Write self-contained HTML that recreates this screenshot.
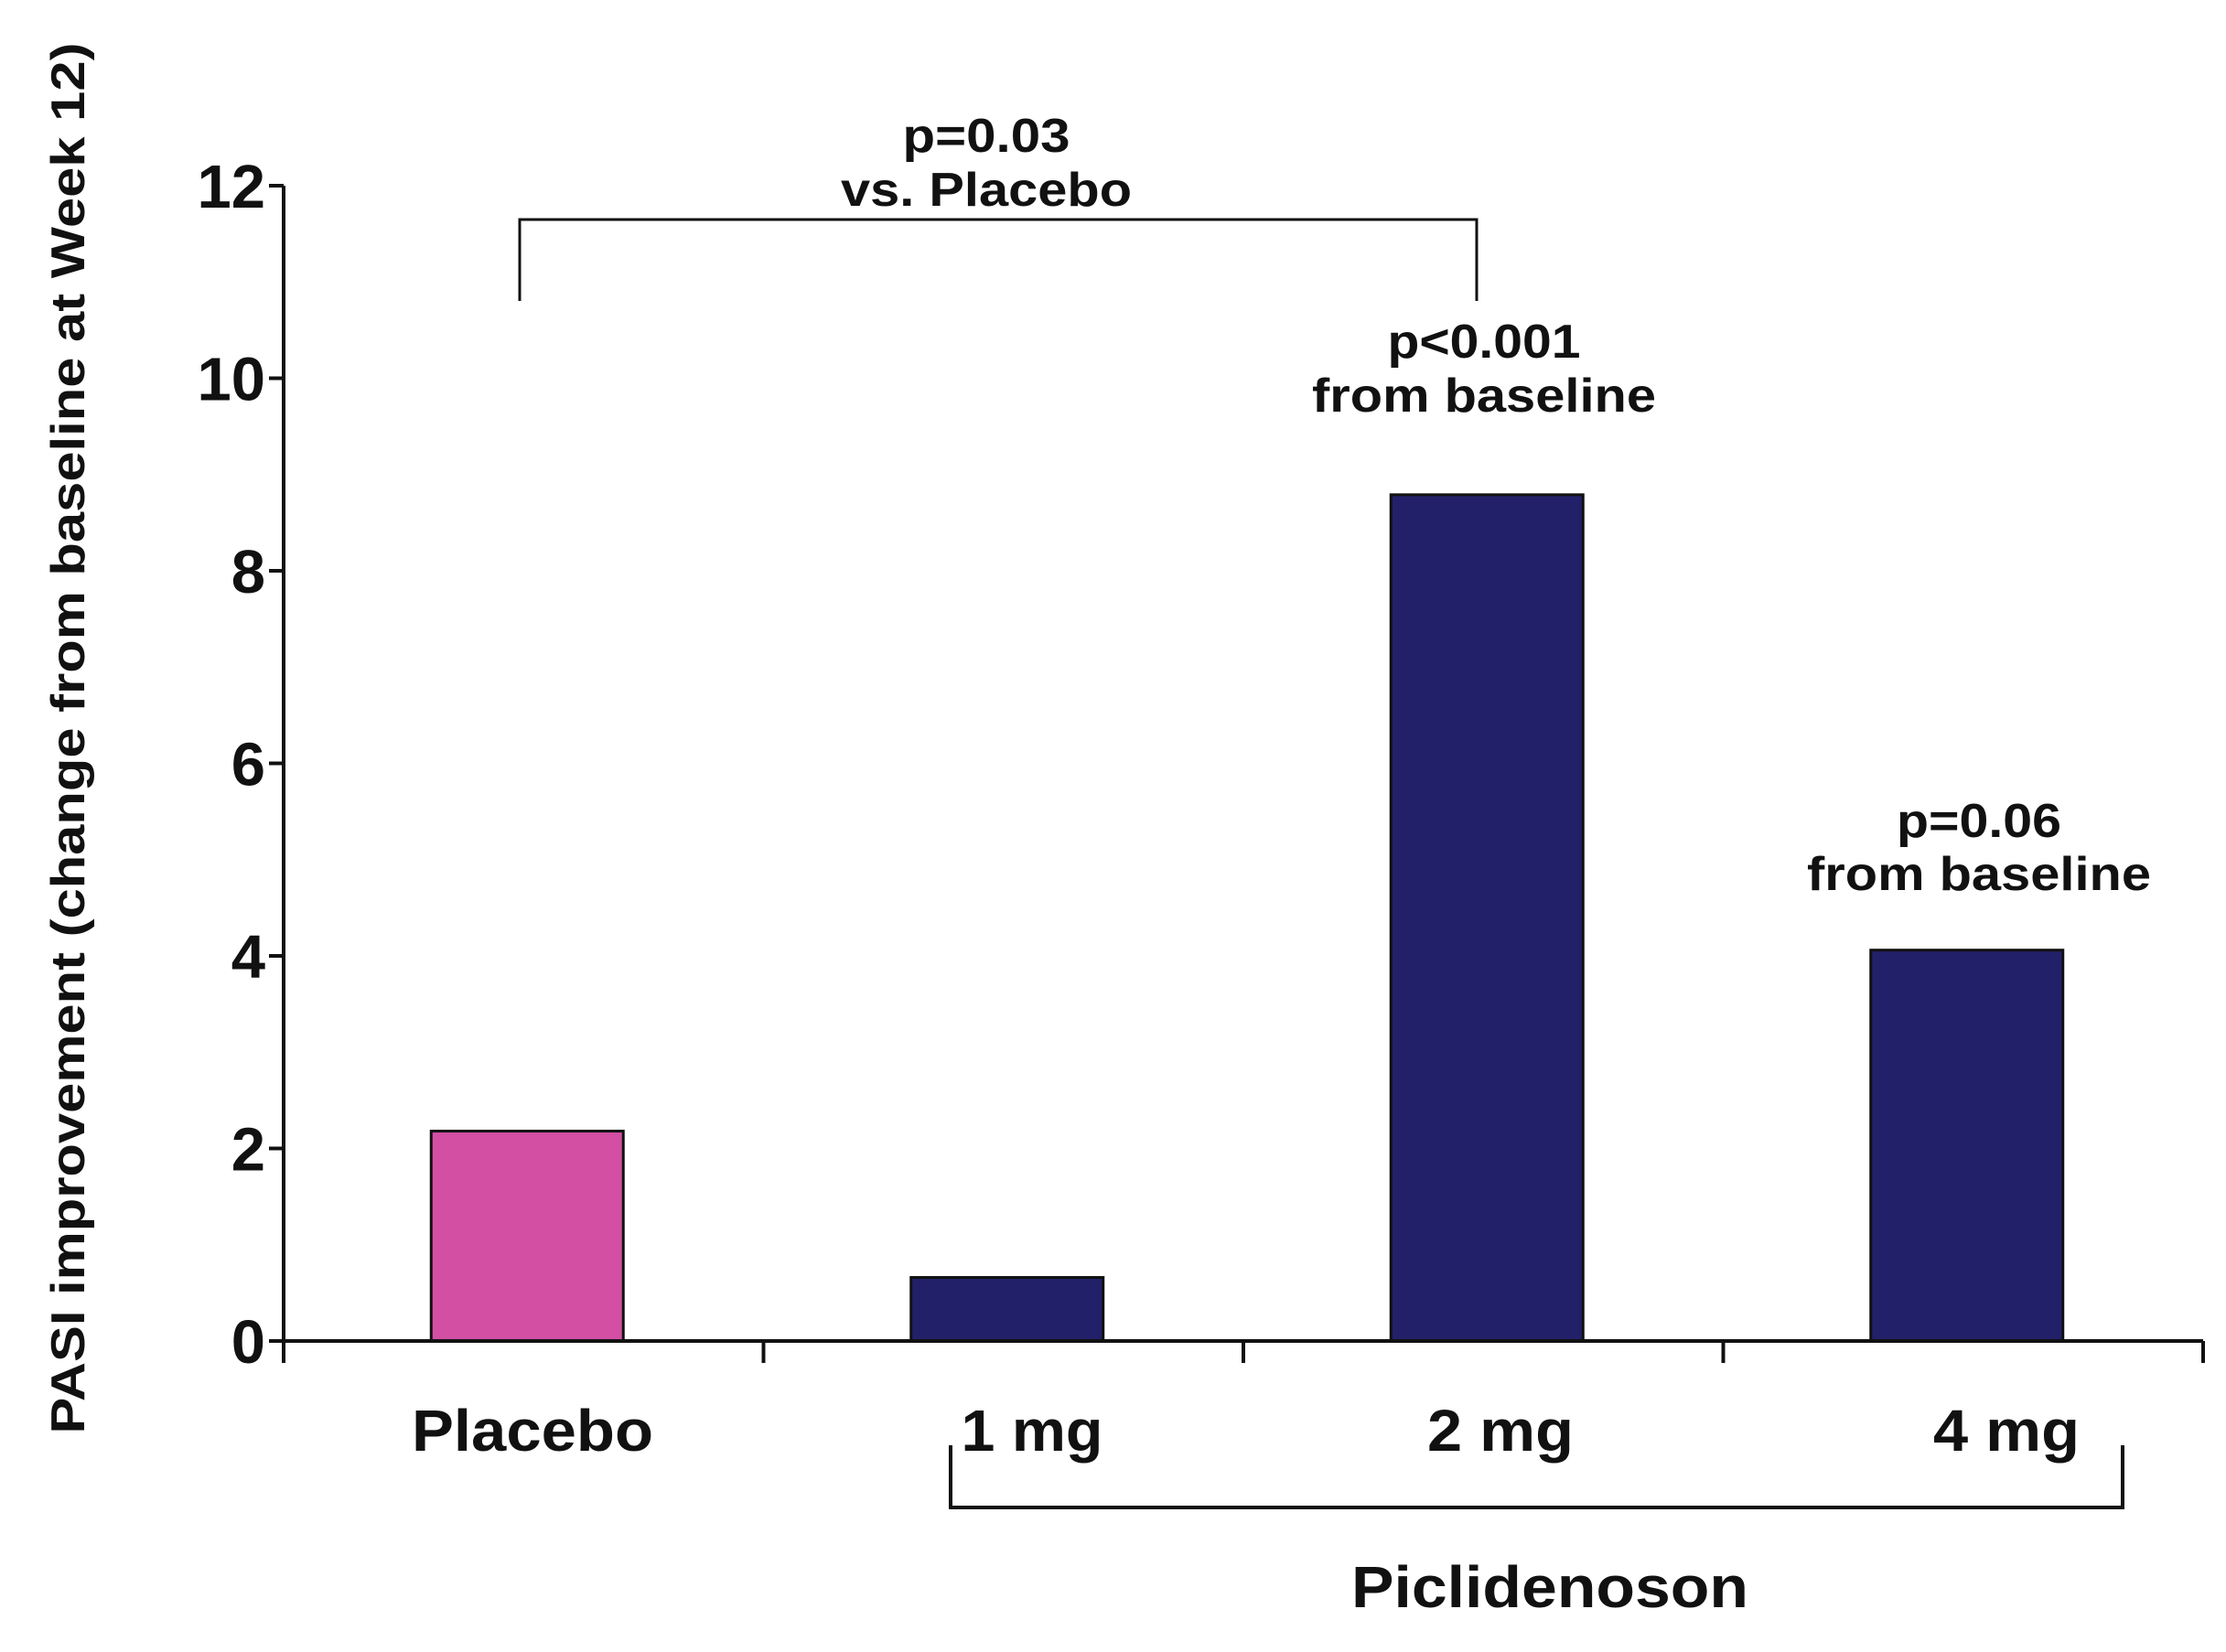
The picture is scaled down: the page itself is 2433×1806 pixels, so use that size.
<!DOCTYPE html>
<html><head><meta charset="utf-8"><style>
body{margin:0;background:#fff}
svg text{font-family:"Liberation Sans",Arial,sans-serif;font-weight:bold;fill:#111}
</style></head><body>
<svg width="2433" height="1801" viewBox="0 0 2433 1801" xmlns="http://www.w3.org/2000/svg">
<g id="plot"></g>
<text transform="translate(92,807) rotate(-90)" text-anchor="middle" font-size="52" textLength="1521" lengthAdjust="spacingAndGlyphs">PASI improvement (change from baseline at Week 12)</text>
<g fill="none" stroke="#111" stroke-width="3">
<path d="M568,329 V240 H1614 V329"/>
</g>
<text text-anchor="middle" font-size="52"><tspan x="1078" y="166" textLength="183" lengthAdjust="spacingAndGlyphs">p=0.03</tspan><tspan x="1078" y="225" textLength="318" lengthAdjust="spacingAndGlyphs">vs. Placebo</tspan></text>
<text text-anchor="middle" font-size="52"><tspan x="1622" y="391" textLength="211" lengthAdjust="spacingAndGlyphs">p&lt;0.001</tspan><tspan x="1622" y="450" textLength="376" lengthAdjust="spacingAndGlyphs">from baseline</tspan></text>
<text text-anchor="middle" font-size="52"><tspan x="2163" y="915" textLength="180" lengthAdjust="spacingAndGlyphs">p=0.06</tspan><tspan x="2163" y="973" textLength="376" lengthAdjust="spacingAndGlyphs">from baseline</tspan></text>
<path d="M1039,1580 V1648 H2320 V1580" fill="none" stroke="#111" stroke-width="4"/>
<text x="1694" y="1757" text-anchor="middle" font-size="64" textLength="434" lengthAdjust="spacingAndGlyphs">Piclidenoson</text>
<script>
const categories=["Placebo","1 mg","2 mg","4 mg"];
const values=[2.18,0.66,8.79,4.06];
const colors=["#d24fa4","#23206a","#23206a","#23206a"];
const yTicks=[0,2,4,6,8,10,12];
const labelX=[582,1128,1640,2193];
const labelW=[264,155,160,160];
const NS="http://www.w3.org/2000/svg";
const g=document.getElementById('plot');
const x0=310,x1=2408,y0=1466,yTop=203,yMax=12;
const band=(x1-x0)/categories.length;
const y=v=>y0-(v/yMax)*(y0-yTop);
const xc=i=>x0+band*(i+0.5)+4;
function mk(t,a){const e=document.createElementNS(NS,t);for(const k in a)e.setAttribute(k,a[k]);g.appendChild(e);return e;}
values.forEach((v,i)=>{
 const r=mk('rect',{x:xc(i)-105,y:y(v),width:210,height:y0-y(v),fill:colors[i],stroke:'#111','stroke-width':3});
 
 
 const t=mk('text',{x:labelX[i],y:1586,'text-anchor':'middle','font-size':64,textLength:labelW[i],lengthAdjust:'spacingAndGlyphs'});
 t.textContent=categories[i];
 
 
});
const ax=mk('path',{d:`M${x0},${yTop} V${y0} H${x1}`,fill:'none',stroke:'#111','stroke-width':4});


yTicks.forEach(v=>{
 const tk=mk('line',{x1:x0-16,x2:x0,y1:y(v),y2:y(v),stroke:'#111','stroke-width':4});
 
 
 const s=String(v);
 const t=mk('text',{x:x0-20,y:y(v)+24,'text-anchor':'end','font-size':67});
 t.textContent=s;
 
 
});
for(let i=0;i<=categories.length;i++){
 const tk=mk('line',{x1:x0+band*i,x2:x0+band*i,y1:y0,y2:y0+24,stroke:'#111','stroke-width':4});
 
 
}
</script>
</svg>
</body></html>
